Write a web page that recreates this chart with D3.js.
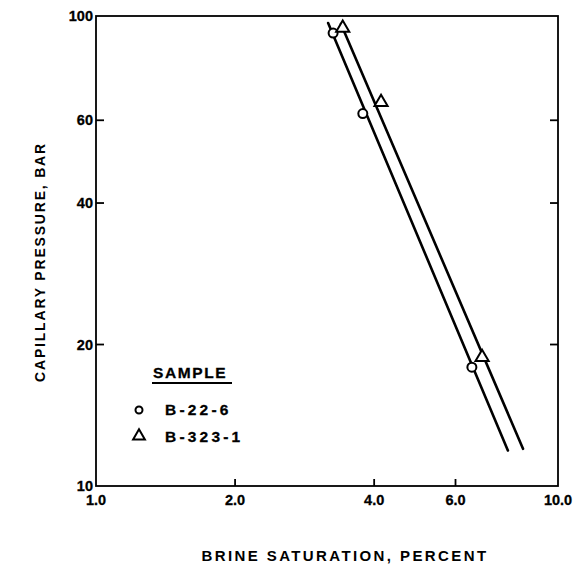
<!DOCTYPE html>
<html>
<head>
<meta charset="utf-8">
<script src="https://cdn.jsdelivr.net/npm/d3@7"></script>
<style>
  body { margin: 0; background: #fff; }
  svg text { font-family: "Liberation Sans", Arial, sans-serif; font-weight: bold; fill: #000; }
  .tick-label { font-size: 14.5px; stroke: #000; stroke-width: 0.3px; }
  .axis-title { font-size: 14px; }
  .legend-text { font-size: 15.5px; stroke: #000; stroke-width: 0.3px; }
</style>
</head>
<body>
<div id="chart"></div>
<script>
const X_TICKS = [1, 2, 4, 6, 10];
const X_TICK_LABELS = ["1.0", "2.0", "4.0", "6.0", "10.0"];
const Y_TICKS = [10, 20, 40, 60, 100];
const Y_TICK_LABELS = ["10", "20", "40", "60", "100"];

const SAMPLES = ["B-22-6", "B-323-1"];
const MARKERS = ["circle", "triangle"];

// measured points, brine saturation (%) vs capillary pressure (bar)
const B22_SAT = [3.26, 3.78, 6.51];
const B22_PC = [92, 62, 17.9];
const B323_SAT = [3.42, 4.14, 6.85];
const B323_PC = [93.8, 65.2, 18.7];

// fitted lines, two end points each
const B22_LINE_SAT = [3.18, 7.79];
const B22_LINE_PC = [96.6, 11.9];
const B323_LINE_SAT = [3.39, 8.4];
const B323_LINE_PC = [96.2, 12.0];

const width = 583;
const height = 568;
const margin = { top: 16, right: 25, bottom: 82, left: 96 };
const innerW = width - margin.left - margin.right;
const innerH = height - margin.top - margin.bottom;

const x = d3.scaleLog().domain([1, 10]).range([0, innerW]);
const y = d3.scaleLog().domain([10, 100]).range([innerH, 0]);

const svg = d3.select("#chart")
  .append("svg")
  .attr("width", width)
  .attr("height", height);

const g = svg.append("g").attr("transform", `translate(${margin.left},${margin.top})`);

// frame
g.append("rect")
  .attr("width", innerW)
  .attr("height", innerH)
  .attr("fill", "none")
  .attr("stroke", "#000")
  .attr("stroke-width", 1.8);

// inward ticks
const inner = (v) => v !== 1 && v !== 10 && v !== 100;
g.selectAll(".xt")
  .data(X_TICKS.filter(inner))
  .join("line")
  .attr("x1", (d) => x(d)).attr("x2", (d) => x(d))
  .attr("y1", innerH).attr("y2", innerH - 7)
  .attr("stroke", "#000").attr("stroke-width", 1.8);

g.selectAll(".yl")
  .data(Y_TICKS.filter(inner))
  .join("line")
  .attr("x1", 0).attr("x2", 8)
  .attr("y1", (d) => y(d)).attr("y2", (d) => y(d))
  .attr("stroke", "#000").attr("stroke-width", 1.8);

g.selectAll(".yr")
  .data(Y_TICKS.filter(inner))
  .join("line")
  .attr("x1", innerW).attr("x2", innerW - 8)
  .attr("y1", (d) => y(d)).attr("y2", (d) => y(d))
  .attr("stroke", "#000").attr("stroke-width", 1.8);

// tick labels
g.selectAll(".xlab")
  .data(X_TICKS)
  .join("text")
  .attr("class", "tick-label")
  .attr("x", (d) => x(d))
  .attr("y", innerH + 19)
  .attr("text-anchor", "middle")
  .text((d, i) => X_TICK_LABELS[i]);

g.selectAll(".ylab")
  .data(Y_TICKS)
  .join("text")
  .attr("class", "tick-label")
  .attr("x", -3)
  .attr("y", (d) => y(d) + 5)
  .attr("text-anchor", "end")
  .text((d, i) => Y_TICK_LABELS[i]);

// axis titles
svg.append("text")
  .attr("class", "axis-title")
  .attr("x", 345)
  .attr("y", 561)
  .attr("text-anchor", "middle")
  .style("font-size", "15px")
  .style("letter-spacing", "2.4px")
  .text("BRINE SATURATION, PERCENT");

svg.append("text")
  .attr("class", "axis-title")
  .attr("transform", "translate(45,262) rotate(-90)")
  .attr("text-anchor", "middle")
  .style("letter-spacing", "1.8px")
  .text("CAPILLARY PRESSURE, BAR");

// fitted lines
const line = d3.line().x((d) => x(d[0])).y((d) => y(d[1]));
const fits = [
  d3.zip(B22_LINE_SAT, B22_LINE_PC),
  d3.zip(B323_LINE_SAT, B323_LINE_PC),
];
g.selectAll(".fit")
  .data(fits)
  .join("path")
  .attr("d", line)
  .attr("fill", "none")
  .attr("stroke", "#000")
  .attr("stroke-width", 2.6)
  .attr("stroke-linecap", "round");

// markers
const triPath = d3.symbol().type(d3.symbolTriangle).size(75);
function drawMarker(sel, type) {
  if (type === "circle") {
    sel.append("circle").attr("r", 4.5);
  } else {
    sel.append("path").attr("d", triPath).attr("transform", "translate(0,-1)");
  }
  sel.selectAll("circle, path")
    .attr("fill", "#fff")
    .attr("stroke", "#000")
    .attr("stroke-width", 2);
}

const pointSets = [
  d3.zip(B22_SAT, B22_PC),
  d3.zip(B323_SAT, B323_PC),
];
pointSets.forEach((pts, i) => {
  pts.forEach((p) => {
    const m = g.append("g").attr("transform", `translate(${x(p[0])},${y(p[1])})`);
    drawMarker(m, MARKERS[i]);
  });
});

// legend
const legend = svg.append("g").attr("transform", "translate(139,378)");
legend.append("text")
  .attr("class", "legend-text")
  .attr("x", 14)
  .attr("y", 0)
  .style("letter-spacing", "1.6px")
  .text("SAMPLE");
legend.append("line")
  .attr("x1", 13).attr("x2", 93)
  .attr("y1", 5).attr("y2", 5)
  .attr("stroke", "#000").attr("stroke-width", 1.8);

SAMPLES.forEach((name, i) => {
  const row = legend.append("g").attr("transform", `translate(0,${32 + i * 27})`);
  const m = row.append("g");
  drawMarker(m, MARKERS[i]);
  m.selectAll("circle").attr("r", 3.5);
  m.selectAll("path").attr("d", d3.symbol().type(d3.symbolTriangle).size(60));
  row.append("text")
    .attr("class", "legend-text")
    .attr("x", 26)
    .attr("y", 5)
    .style("letter-spacing", "3.2px")
    .text(name);
});
</script>
</body>
</html>
